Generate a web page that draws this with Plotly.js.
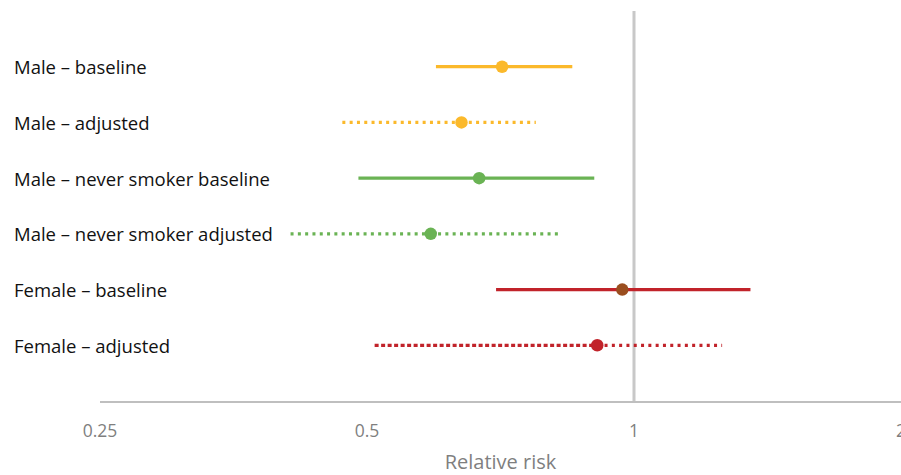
<!DOCTYPE html>
<html>
<head>
<meta charset="utf-8">
<script src="https://cdn.plot.ly/plotly-3.0.1.min.js"></script>
<style>html,body{margin:0;padding:0;background:#fff;}#chart{width:901px;height:475px;}</style>
</head>
<body>
<div id="chart"></div>
<script>
// ---- data ----
const categories = [
  "Male \u2013 baseline",
  "Male \u2013 adjusted",
  "Male \u2013 never smoker baseline",
  "Male \u2013 never smoker adjusted",
  "Female \u2013 baseline",
  "Female \u2013 adjusted"
];
const estimate = [0.710, 0.639, 0.669, 0.590, 0.970, 0.909];
const lowerCI  = [0.598, 0.469, 0.489, 0.410, 0.699, 0.510];
const upperCI  = [0.852, 0.775, 0.902, 0.822, 1.353, 1.257];
const tickVals = [0.25, 0.5, 1, 2];
const tickText = ["0.25", "0.5", "1", "2"];
const xTitle = "Relative risk";

// ---- styles ----
const lineColors   = ["#FBB92B", "#FBB92B", "#6AB354", "#6AB354", "#C1232A", "#C1232A"];
const markerColors = ["#FBB92B", "#FBB92B", "#6AB354", "#6AB354", "#9A4E1F", "#C1232A"];
const leftDash  = ["solid", "3px,4.3px", "solid", "3px,4.3px", "solid", "4px,2.5px"];
const rightDash = ["solid", "3px,4.3px", "solid", "3px,4.3px", "solid", "3px,4.3px"];
const FONT = "'Open Sans', 'Noto Sans', sans-serif";

const traces = [];
categories.forEach((c, i) => {
  traces.push({
    type: "scatter", mode: "lines", x: [lowerCI[i], estimate[i]], y: [c, c],
    line: {color: lineColors[i], width: 3.2, dash: leftDash[i]}, hoverinfo: "skip", showlegend: false
  });
  traces.push({
    type: "scatter", mode: "lines", x: [estimate[i], upperCI[i]], y: [c, c],
    line: {color: lineColors[i], width: 3.2, dash: rightDash[i]}, hoverinfo: "skip", showlegend: false
  });
});
traces.push({
  type: "scatter", mode: "markers", x: estimate, y: categories,
  marker: {color: markerColors, size: 12.5, line: {width: 0}}, showlegend: false
});

const annotations = categories.map(c => ({
  xref: "paper", yref: "y", x: -100/801, y: c, xanchor: "left", yanchor: "middle",
  text: c, showarrow: false, xshift: 12,
  font: {family: FONT, size: 18.5, color: "#111111"}
}));

const layout = {
  width: 901, height: 475,
  margin: {l: 100, r: 0, t: 11, b: 74, pad: 0},
  paper_bgcolor: "#ffffff", plot_bgcolor: "#ffffff",
  showlegend: false,
  xaxis: {
    type: "log", range: [Math.log10(0.25) - 1e-6, Math.log10(2) + 1e-6],
    tickvals: tickVals, ticktext: tickText,
    showgrid: false, zeroline: false,
    showline: true, linecolor: "#BFBFBF", linewidth: 1.5,
    ticks: "", ticklabelstandoff: 13, ticklabeloverflow: "allow",
    tickfont: {family: FONT, size: 17.5, color: "#7F7F7F"},
    title: {text: xTitle, standoff: 14, font: {family: FONT, size: 20, color: "#7F7F7F"}},
    automargin: false, fixedrange: true
  },
  yaxis: {
    type: "category", categoryorder: "array", categoryarray: categories.slice().reverse(),
    range: [-1, 6], showticklabels: false, showgrid: false, zeroline: false, showline: false,
    ticks: "", automargin: false, fixedrange: true
  },
  shapes: [{
    type: "line", xref: "x", yref: "paper", x0: 1, x1: 1, y0: 0, y1: 1,
    line: {color: "#C8C8C8", width: 3}, layer: "below"
  }],
  annotations: annotations
};

Plotly.newPlot("chart", traces, layout, {displayModeBar: false, staticPlot: true});
</script>
</body>
</html>
